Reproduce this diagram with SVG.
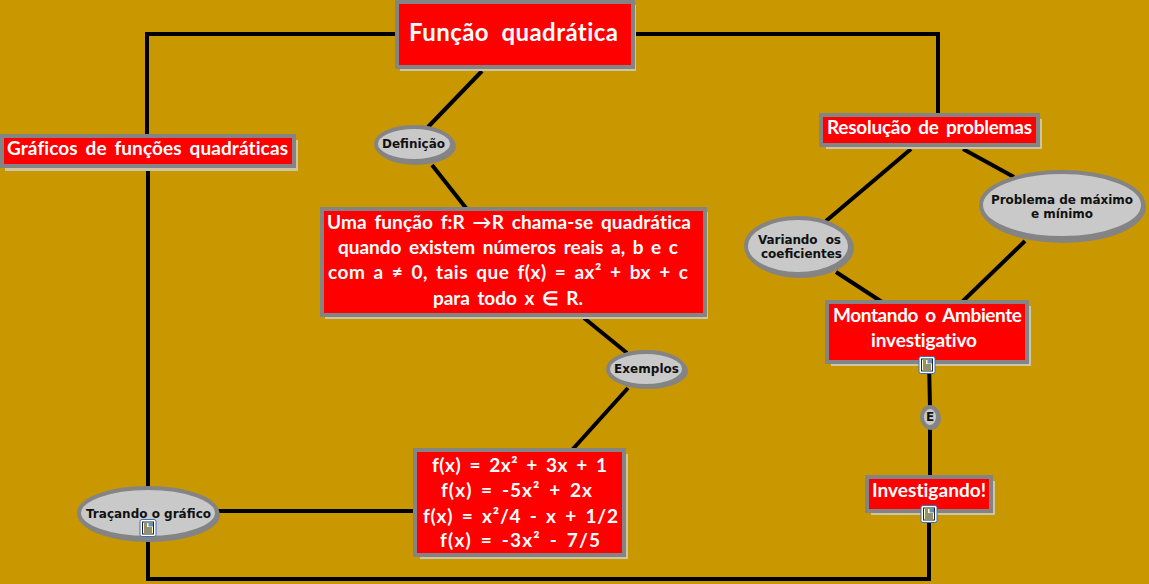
<svg xmlns="http://www.w3.org/2000/svg" width="1149" height="584" viewBox="0 0 1149 584">
<style>
.s{fill:#cdc6a6}
.b{fill:#ff0000;stroke:#848484;stroke-width:4}
.t{font-family:"Lato","Open Sans",sans-serif;font-weight:700;fill:#fff;font-size:19px;word-spacing:3px;font-variant-ligatures:none}
.es{fill:#848484}
.e{fill:#c9c9c9;stroke:#848484;stroke-width:4}
.l{font-family:"DejaVu Sans",sans-serif;font-weight:700;fill:#111;font-size:12px}
.c{fill:none;stroke:#000;stroke-width:4}
</style>
<defs>
<g id="doc">
<rect x="-8" y="-8.500" width="16" height="17" rx="2" fill="#fff" stroke="#3a6fc0" stroke-width="1"/>
<rect x="-5.500" y="-6" width="11" height="12" fill="#ffffc8" stroke="#222" stroke-width="1"/>
<rect x="0.500" y="-5.500" width="4.500" height="4" fill="#6a90b8"/>
<path d="M-4-4h3M-4-2h3M-4 0h8M-4 2h8M-4 4h8" stroke="#222" stroke-width="1"/>
</g>
</defs>
<rect width="1149" height="584" fill="#c99700"/>
<g id="connectors">
<path class="c" d="M397 34H147V136M148 168V489"/>
<path class="c" d="M633 34H938V115"/>
<path class="c" d="M482 71L428 127M432 165L466 208"/>
<path class="c" d="M584 318L627 353M628 388L572 450"/>
<path class="c" d="M218 511H415"/>
<path class="c" d="M148 540V579H929V513"/>
<path class="c" d="M929 362L930 407M930 428V477"/>
<path class="c" d="M911 149L826 221M963 149L1014 177M1025 241L962 302M836 272L882 302"/>
</g>
<g id="n-funcao">
<rect class="s" x="400" y="5" width="236" height="66"/><rect class="b" x="397" y="2" width="236" height="65"/>
<text class="t" x="409" y="41" style="font-size:24px;word-spacing:6px" textLength="209">Função quadrática</text>
</g>
<g id="n-graficos">
<rect class="s" x="5" y="140" width="293" height="31"/><rect class="b" x="2" y="136" width="292" height="30"/>
<text class="t" x="7" y="155" textLength="281">Gráficos de funções quadráticas</text>
</g>
<g id="n-definicao-texto">
<rect class="s" x="325" y="212" width="383" height="107"/><rect class="b" x="322" y="209" width="383" height="106"/>
<text class="t" x="327" y="229" textLength="364">Uma função f:R →R chama-se quadrática</text>
<text class="t" x="338" y="254" textLength="340">quando existem números reais a, b e c</text>
<text class="t" x="328" y="279" textLength="360">com a ≠ 0, tais que f(x) = ax² + bx + c</text>
<text class="t" x="433" y="305" textLength="150">para todo x ∈ R.</text>
</g>
<g id="n-exemplos-texto">
<rect class="s" x="420" y="454" width="208" height="105"/><rect class="b" x="415" y="450" width="209" height="105"/>
<text class="t" x="432" y="472" textLength="175">f(x) = 2x² + 3x + 1</text>
<text class="t" x="441" y="497" textLength="151">f(x) = -5x² + 2x</text>
<text class="t" x="423" y="523" textLength="195">f(x) = x²/4 - x + 1/2</text>
<text class="t" x="440" y="547" textLength="160">f(x) = -3x² - 7/5</text>
</g>
<g id="n-resolucao">
<rect class="s" x="826" y="119" width="216" height="30"/><rect class="b" x="821" y="115" width="217" height="30"/>
<text class="t" x="827" y="134" textLength="205">Resolução de problemas</text>
</g>
<g id="n-montando">
<rect class="s" x="831" y="306" width="200" height="60"/><rect class="b" x="827" y="302" width="200" height="60"/>
<text class="t" x="833" y="322" textLength="189">Montando o Ambiente</text>
<text class="t" x="871" y="347" textLength="106">investigativo</text>
<use href="#doc" x="927" y="365"/>
</g>
<g id="n-investigando">
<rect class="s" x="871" y="481" width="124" height="34"/><rect class="b" x="867" y="477" width="124" height="34"/>
<text class="t" x="872" y="497" textLength="114">Investigando!</text>
<use href="#doc" x="929" y="514"/>
</g>
<g id="n-definicao">
<ellipse class="es" cx="416" cy="146" rx="40" ry="19"/><ellipse class="e" cx="414" cy="144" rx="38" ry="17"/>
<text class="l" x="382" y="148" textLength="63">Definição</text>
</g>
<g id="n-exemplos">
<ellipse class="es" cx="648" cy="371" rx="40" ry="18"/><ellipse class="e" cx="646" cy="369" rx="38" ry="17"/>
<text class="l" x="614" y="373" textLength="65">Exemplos</text>
</g>
<g id="n-tracando">
<ellipse class="es" cx="149" cy="515" rx="71" ry="27"/><ellipse class="e" cx="148" cy="513" rx="69" ry="25"/>
<text class="l" x="86" y="518" textLength="125">Traçando o gráfico</text>
<use href="#doc" x="148" y="528"/>
</g>
<g id="n-variando">
<ellipse class="es" cx="800" cy="248" rx="54" ry="30"/><ellipse class="e" cx="798" cy="246" rx="52" ry="28"/>
<text class="l" x="758" y="244" textLength="83" xml:space="preserve">Variando  os</text>
<text class="l" x="761" y="258" textLength="81">coeficientes</text>
</g>
<g id="n-problema">
<ellipse class="es" cx="1063" cy="207" rx="83" ry="36"/><ellipse class="e" cx="1062" cy="205" rx="81" ry="33"/>
<text class="l" x="991" y="204" textLength="142">Problema de máximo</text>
<text class="l" x="1031" y="218" textLength="62">e mínimo</text>
</g>
<g id="n-e">
<ellipse class="es" cx="931" cy="418" rx="10" ry="12"/><ellipse class="e" cx="930" cy="417" rx="8" ry="10"/>
<text class="l" x="926" y="421">E</text>
</g>
</svg>
